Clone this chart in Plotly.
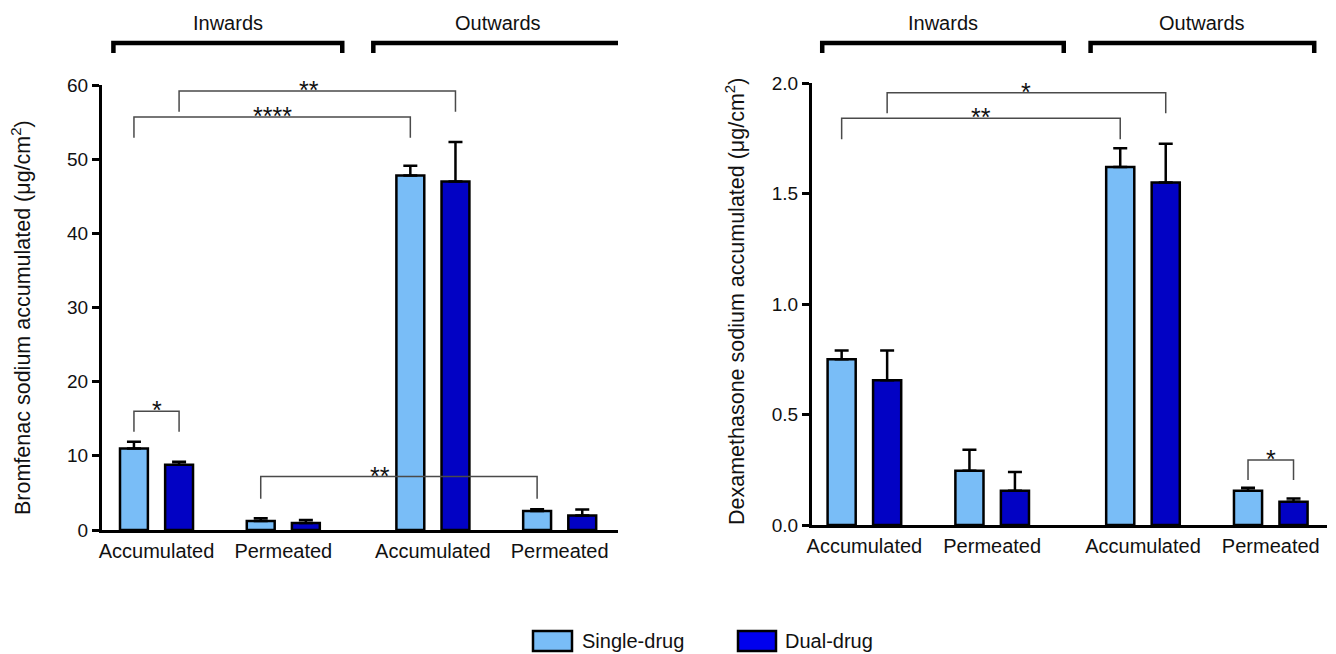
import plotly.graph_objects as go

# ---------------- data ----------------
groups = ["Accumulated", "Permeated", "Accumulated", "Permeated"]
group_pos = [0, 1, 2.18, 3.18]
series_names = ["Single-drug", "Dual-drug"]
directions = ["Inwards", "Outwards"]

brom_single = [11.0, 1.2, 47.8, 2.55]
brom_single_err = [0.9, 0.4, 1.3, 0.25]
brom_dual = [8.8, 0.95, 47.0, 1.95]
brom_dual_err = [0.4, 0.4, 5.3, 0.8]

dexa_single = [0.75, 0.245, 1.62, 0.155]
dexa_single_err = [0.04, 0.095, 0.085, 0.013]
dexa_dual = [0.655, 0.155, 1.55, 0.105]
dexa_dual_err = [0.135, 0.085, 0.175, 0.015]

brom_ticks = [0, 10, 20, 30, 40, 50, 60]
dexa_ticks = [0, 0.5, 1.0, 1.5, 2.0]
dexa_ticktext = ["0.0", "0.5", "1.0", "1.5", "2.0"]

# significance: (left bar (group idx, series idx), right bar, top, left-leg bottom, right-leg bottom, label)
brom_sig = [
    ((0, 1), (2, 1), 59.2, 56.4, 56.4, "**"),
    ((0, 0), (2, 0), 55.7, 52.9, 52.9, "****"),
    ((0, 0), (0, 1), 16.0, 13.25, 13.25, "*"),
    ((1, 0), (3, 0), 7.2, 4.2, 4.2, "**"),
]
dexa_sig = [
    ((0, 1), (2, 1), 1.956, 1.863, 1.863, "*"),
    ((0, 0), (2, 0), 1.84, 1.745, 1.745, "**"),
    ((3, 0), (3, 1), 0.294, 0.204, 0.204, "*"),
]

# ---------------- style ----------------
FONT = "Arial, Liberation Sans, sans-serif"
C_SINGLE = "#79BDF7"
C_DUAL = "#0202C4"
BAR_W = 0.22
HALF = 0.178
W, H = 1336, 654

fig = go.Figure()


def add_bars(vals, errs, name, color, xa, ya, side):
    offset = (-HALF if side == 0 else HALF) - BAR_W / 2
    fig.add_trace(go.Bar(
        x=group_pos, y=vals, name=name, width=BAR_W, offset=offset,
        marker=dict(color=color, line=dict(color="black", width=2.5)),
        error_y=dict(type="data", symmetric=False, array=errs,
                     arrayminus=[0] * len(errs), color="black",
                     thickness=2.5, width=7),
        xaxis=xa, yaxis=ya, showlegend=False,
    ))


add_bars(brom_single, brom_single_err, series_names[0], C_SINGLE, "x", "y", 0)
add_bars(brom_dual, brom_dual_err, series_names[1], C_DUAL, "x", "y", 1)
add_bars(dexa_single, dexa_single_err, series_names[0], C_SINGLE, "x2", "y2", 0)
add_bars(dexa_dual, dexa_dual_err, series_names[1], C_DUAL, "x2", "y2", 1)

shapes = []
annotations = []


def bar_center(g, s):
    return group_pos[g] + (-HALF if s == 0 else HALF)


def add_sig(sig_list, xr, yr, label_x_override=None):
    for i, (a, b, top, lb, rb, lab) in enumerate(sig_list):
        x0 = bar_center(*a)
        x1 = bar_center(*b)
        path = f"M {x0},{lb} L {x0},{top} L {x1},{top} L {x1},{rb}"
        shapes.append(dict(type="path", path=path, xref=xr, yref=yr,
                           line=dict(color="#4a4a4a", width=1.5)))
        lx = (x0 + x1) / 2
        if label_x_override and i in label_x_override:
            lx = label_x_override[i]
        annotations.append(dict(x=lx, y=top, xref=xr, yref=yr, text=lab,
                                showarrow=False, yanchor="middle", yshift=1,
                                font=dict(family=FONT, size=25, color="#111")))


add_sig(brom_sig, "x", "y", {0: 1.2, 3: 1.76})
add_sig(dexa_sig, "x2", "y2")

# direction brackets (Inwards / Outwards)
brackets = {
    "x": [(-0.34, 1.465), (1.71, 3.68)],
    "x2": [(-0.33, 1.56), (1.77, 3.52)],
}
y_line = 1 - 43 / H
y_leg = 1 - 53 / H
y_txt = 1 - 23 / H
for xr, spans in brackets.items():
    for (x0, x1), lab in zip(spans, directions):
        shapes.append(dict(type="path",
                           path=f"M {x0},{y_leg} L {x0},{y_line} L {x1},{y_line} L {x1},{y_leg}",
                           xref=xr, yref="paper",
                           line=dict(color="black", width=4.5)))
        annotations.append(dict(x=(x0 + x1) / 2, y=y_txt, xref=xr, yref="paper",
                                text=lab, showarrow=False,
                                xanchor="center", yanchor="middle",
                                font=dict(family=FONT, size=20, color="#111")))

# y-axis titles
annotations.append(dict(x=21 / W, y=1 - 318 / H, xref="paper", yref="paper",
                        text="Bromfenac sodium accumulated (μg/cm<sup>2</sup>)",
                        textangle=-90, showarrow=False,
                        xanchor="center", yanchor="middle",
                        font=dict(family=FONT, size=21.5, color="#111")))
annotations.append(dict(x=735 / W, y=1 - 302 / H, xref="paper", yref="paper",
                        text="Dexamethasone sodium accumulated (μg/cm<sup>2</sup>)",
                        textangle=-90, showarrow=False,
                        xanchor="center", yanchor="middle",
                        font=dict(family=FONT, size=21.5, color="#111")))

# legend (drawn manually for large swatches)
leg_items = [(533, 572, 580, C_SINGLE), (738, 776, 783, "#0000EE")]
for (bx0, bx1, tx, col), nm in zip(leg_items, series_names):
    shapes.append(dict(type="rect", xref="paper", yref="paper",
                       x0=bx0 / W, x1=bx1 / W, y0=1 - 651 / H, y1=1 - 631 / H,
                       fillcolor=col, line=dict(color="black", width=2.5)))
    annotations.append(dict(x=tx / W, y=1 - 641 / H, xref="paper", yref="paper",
                            text=nm, showarrow=False, xanchor="left", yanchor="middle",
                            font=dict(family=FONT, size=20, color="#111")))

axis_common = dict(showgrid=False, zeroline=False, showline=True,
                   linecolor="black", linewidth=3, automargin=False)
xcommon = dict(axis_common, tickmode="array", tickvals=group_pos, ticktext=groups,
               ticks="", ticklabelstandoff=1,
               tickfont=dict(family=FONT, size=20, color="#111"))
ycommon = dict(axis_common, ticks="outside", ticklen=7, tickwidth=3,
               tickcolor="black", tickfont=dict(family=FONT, size=19, color="#111"))

fig.update_layout(
    width=W, height=H, margin=dict(l=0, r=0, t=0, b=0, autoexpand=False),
    paper_bgcolor="white", plot_bgcolor="white", barmode="overlay",
    xaxis=dict(xcommon, domain=[102 / W, 618 / W], range=[-0.43, 3.64], anchor="y"),
    yaxis=dict(ycommon, domain=[1 - 530 / H, 1 - 85 / H], range=[0, 60],
               tickvals=brom_ticks, anchor="x"),
    xaxis2=dict(xcommon, domain=[812 / W, 1327 / W], range=[-0.41, 3.62], anchor="y2"),
    yaxis2=dict(ycommon, domain=[1 - 525 / H, 1 - 83 / H], range=[0, 2.0],
                tickvals=dexa_ticks, ticktext=dexa_ticktext, anchor="x2"),
    shapes=shapes, annotations=annotations, showlegend=False,
)

fig.write_html(
    "out.html",
    config={"displayModeBar": False},
    post_script="document.body.style.margin='0';document.body.style.overflow='hidden';",
)
